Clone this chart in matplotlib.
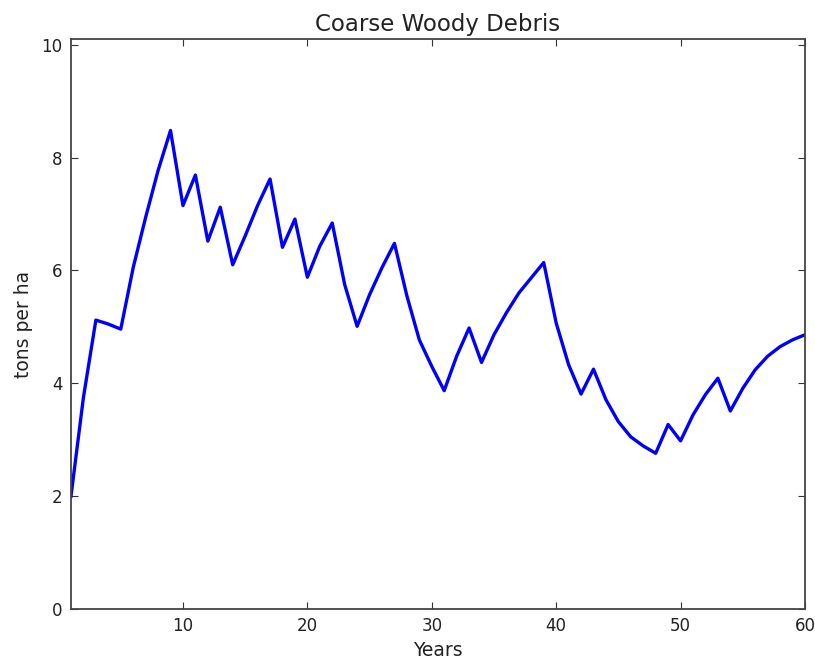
import numpy as np
import matplotlib
matplotlib.use("Agg")
import matplotlib.pyplot as plt

# yearly values
years = np.arange(1, 61)
cwd = [2.00, 3.75, 5.12, 5.05, 4.96, 6.05, 6.94, 7.77, 8.48, 7.15,
       7.69, 6.52, 7.12, 6.10, 6.61, 7.15, 7.62, 6.41, 6.91, 5.88,
       6.43, 6.84, 5.75, 5.01, 5.57, 6.05, 6.48, 5.55, 4.77, 4.30,
       3.87, 4.48, 4.98, 4.37, 4.86, 5.25, 5.60, 5.87, 6.14, 5.07,
       4.33, 3.81, 4.25, 3.71, 3.32, 3.05, 2.89, 2.76, 3.27, 2.98,
       3.44, 3.80, 4.09, 3.51, 3.91, 4.24, 4.48, 4.65, 4.77, 4.86]
xticks = [10, 20, 30, 40, 50, 60]
yticks = [0, 2, 4, 6, 8, 10]

fig = plt.figure(figsize=(8.15, 6.62), dpi=100)
ax = fig.add_axes([0.0871, 0.080, 0.9006, 0.861])

ax.plot(years, cwd, color='#0000ff', lw=2.4)

ax.set_xlim(1, 60)
ax.set_ylim(0, 10.1)
ax.set_xticks(xticks)
ax.set_yticks(yticks)
ax.tick_params(direction='in', top=True, right=True, length=5, width=0.8,
               labelsize=12, pad=6, colors='#333333', labelcolor='#222222')
for s in ax.spines.values():
    s.set_color('#444444')
    s.set_linewidth(1.3)

ax.set_title("Coarse Woody Debris", fontsize=16.5, pad=6, color='#222222')
ax.set_xlabel("Years", fontsize=13.5, color='#222222', labelpad=4)
ax.set_ylabel("tons per ha", fontsize=13.5, color='#222222', labelpad=6)

fig.savefig("out.png", dpi=100)
